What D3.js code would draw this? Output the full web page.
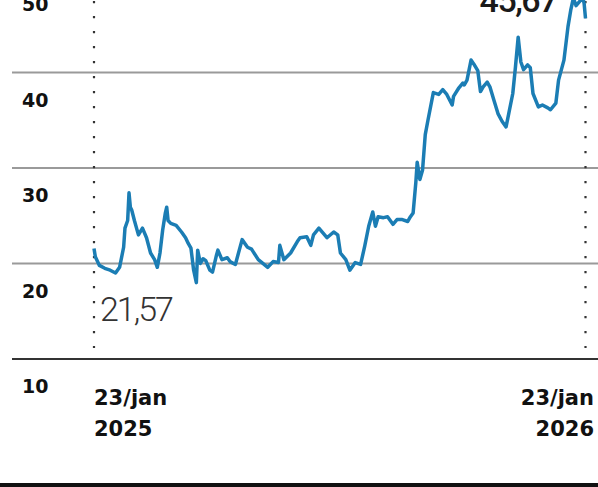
<!DOCTYPE html>
<html>
<head>
<meta charset="utf-8">
<script src="https://cdn.jsdelivr.net/npm/d3@7"></script>
<style>
  body { margin: 0; background: #ffffff; }
  #chart { width: 598px; height: 487px; overflow: hidden; }
</style>
</head>
<body>
<div id="chart"></div>
<script>
// Price, 23/jan 2025 -> 23/jan 2026 (days since start, value)
const days = [0, 1, 4, 8, 12, 16, 19, 22, 23, 25, 26, 27, 28, 30, 33, 36, 39, 42, 45, 47,
  49, 51, 53, 54, 55, 57, 61, 65, 68, 70, 72, 74, 76, 77, 79, 81, 83, 86, 88, 91,
  92, 95, 99, 101, 105, 110, 114, 117, 122, 129, 133, 137, 138, 141, 146, 151, 153, 158, 161, 163,
  167, 170, 173, 178, 181, 183, 187, 190, 194, 198, 201, 204, 207, 209, 211, 215, 218, 222, 225, 229,
  233, 235, 237, 239, 240, 242, 244, 246, 248, 252, 256, 259, 262, 266, 267, 271, 274, 275, 277, 280,
  282, 285, 287, 289, 292, 294, 297, 300, 303, 306, 308, 311, 313, 315, 317, 319, 322, 324, 326, 330,
  333, 337, 339, 343, 345, 349, 352, 354, 356, 358, 361, 363, 364, 365];
const prices = [21.57, 20.7, 19.8, 19.5, 19.3, 19.0, 19.6, 21.7, 23.7, 24.5, 27.4, 25.9, 25.6, 24.5, 23.0, 23.7, 22.7, 21.1, 20.4, 19.6,
  21.1, 23.5, 25.3, 25.9, 24.5, 24.2, 24.0, 23.3, 22.7, 22.1, 21.6, 19.3, 18.0, 21.4, 20.0, 20.5, 20.3, 19.3, 19.1, 20.9,
  21.4, 20.4, 20.6, 20.2, 19.9, 22.5, 21.7, 21.5, 20.4, 19.6, 20.2, 20.1, 21.9, 20.4, 21.1, 22.3, 22.7, 22.8, 21.9, 23.0,
  23.7, 23.2, 22.7, 23.3, 23.0, 21.1, 20.4, 19.3, 20.1, 19.9, 21.8, 23.9, 25.4, 23.9, 24.9, 24.8, 24.9, 24.1, 24.6, 24.6,
  24.4, 24.9, 25.3, 28.5, 30.6, 28.8, 29.8, 33.5, 35.0, 37.9, 37.7, 38.2, 37.7, 36.6, 37.5, 38.4, 38.9, 38.7, 39.2, 41.3,
  40.9, 40.2, 38.0, 38.5, 39.0, 38.5, 37.1, 35.7, 34.9, 34.3, 35.7, 37.8, 40.6, 43.7, 41.1, 40.3, 40.8, 40.5, 37.8, 36.4,
  36.6, 36.3, 36.1, 36.8, 39.2, 41.3, 44.8, 46.5, 47.8, 47.0, 47.5, 47.9, 47.2, 45.67];

const yTicks = [10, 20, 30, 40, 50];
const xLabels = [["23/jan", "2025"], ["23/jan", "2026"]];
const startDate = new Date(2025, 0, 23);
const endDate = new Date(2026, 0, 23);

const width = 598, height = 487;

const svg = d3.select('#chart')
    .append('svg')
    .attr('width', width)
    .attr('height', height);

// scales - 10 sits on the dark base line, 50 falls above the crop
const x = d3.scaleTime()
    .domain([startDate, endDate])
    .range([94, 585.5]);

const y = d3.scaleLinear()
    .domain([10, 50])
    .range([359, -23]);

const data = days.map((d, i) => ({date: d3.timeDay.offset(startDate, d), value: prices[i]}));

// gridlines (labels sit under their line)
svg.selectAll('.grid')
    .data(yTicks)
    .join('line')
    .attr('class', 'grid')
    .attr('x1', 12)
    .attr('x2', width)
    .attr('y1', d => y(d))
    .attr('y2', d => y(d))
    .attr('stroke', d => d === 10 ? '#333333' : '#9a9a9a')
    .attr('stroke-width', 2);

svg.selectAll('.ylab')
    .data(yTicks)
    .join('text')
    .attr('class', 'ylab')
    .attr('x', 22)
    .attr('y', d => y(d) + 34)
    .attr('font-family', 'DejaVu Sans')
    .attr('font-weight', 'bold')
    .attr('font-size', 19)
    .attr('fill', '#111')
    .text(d => d);

// dotted verticals at start and end
svg.selectAll('.vdot')
    .data([startDate, endDate])
    .join('line')
    .attr('class', 'vdot')
    .attr('x1', d => x(d))
    .attr('x2', d => x(d))
    .attr('y1', 1)
    .attr('y2', 348)
    .attr('stroke', '#333')
    .attr('stroke-width', 2.2)
    .attr('stroke-dasharray', '2.2,12.8');

// the price line
const line = d3.line()
    .x(d => x(d.date))
    .y(d => y(d.value));

svg.append('path')
    .datum(data)
    .attr('d', line)
    .attr('fill', 'none')
    .attr('stroke', '#1b7db4')
    .attr('stroke-width', 3.5)
    .attr('stroke-linejoin', 'round');

// first / last value labels
const first = data[0], last = data[data.length - 1];

svg.append('text')
    .attr('x', x(first.date) + 6)
    .attr('y', 321)
    .attr('font-family', 'Roboto')
    .attr('font-weight', 300)
    .attr('font-size', 34)
    .attr('letter-spacing', -2)
    .attr('fill', '#333')
    .text(d3.format('.2f')(first.value).replace('.', ','));

svg.append('text')
    .attr('x', 557)
    .attr('y', 12)
    .attr('text-anchor', 'end')
    .attr('font-family', 'Roboto')
    .attr('font-weight', 500)
    .attr('font-size', 34)
    .attr('letter-spacing', -1.5)
    .attr('fill', '#1a1a1a')
    .text(d3.format('.2f')(last.value).replace('.', ','));

// date labels
const xl = svg.selectAll('.xlab')
    .data([startDate, endDate])
    .join('text')
    .attr('class', 'xlab')
    .attr('font-family', 'DejaVu Sans')
    .attr('font-weight', 'bold')
    .attr('font-size', 21)
    .attr('fill', '#111')
    .attr('text-anchor', (d, i) => i === 0 ? 'start' : 'end');

xl.selectAll('tspan')
    .data((d, i) => xLabels[i].map(t => ({t, i, d})))
    .join('tspan')
    .attr('x', d => d.i === 0 ? x(d.d) : width - 4)
    .attr('y', (d, j) => j === 0 ? 405 : 436)
    .text(d => d.t);

// heavy rule at the bottom
svg.append('line')
    .attr('x1', 0)
    .attr('x2', width)
    .attr('y1', 485)
    .attr('y2', 485)
    .attr('stroke', '#111')
    .attr('stroke-width', 4);
</script>
</body>
</html>
